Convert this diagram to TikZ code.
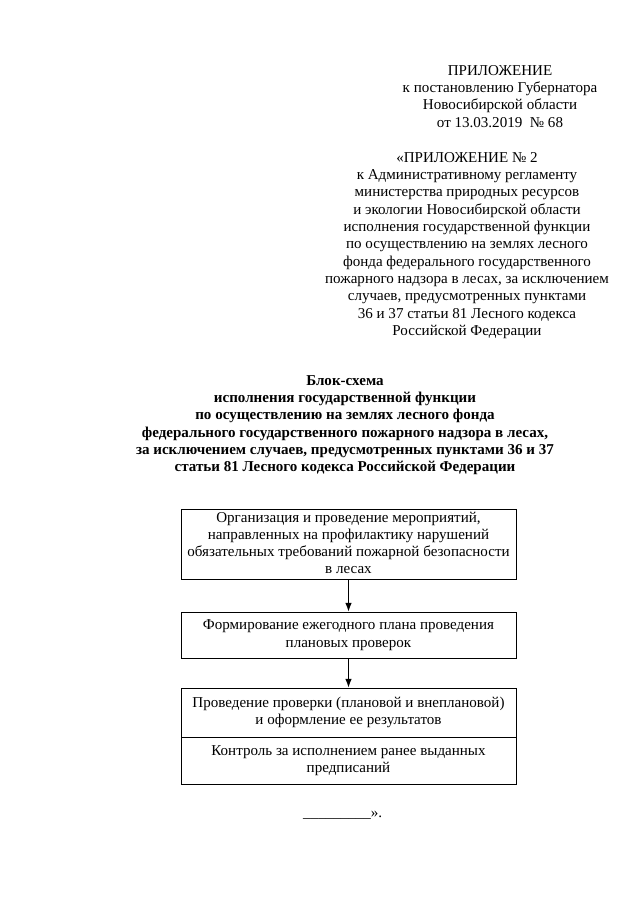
\documentclass[tikz,border=0pt]{standalone}
\usepackage{fontspec}
\setmainfont{Liberation Serif}
\usetikzlibrary{arrows.meta}
\tikzset{
  txt/.style={align=center, inner sep=0pt, font=\fontsize{14pt}{16.1pt}\selectfont},
  boxnode/.style={draw, line width=0.8pt, minimum width=311.55pt, inner sep=0pt, align=center, font=\fontsize{14pt}{16.1pt}\selectfont},
  flow/.style={line width=1pt, -{Latex[length=8pt,width=6pt]}}
}
\begin{document}
\begin{tikzpicture}[x=0.93pt,y=-0.93pt]
\fill[white] (0,0) rectangle (640,905);
\useasboundingbox (0,0) rectangle (640,905);
\node[txt, anchor=north] (hdr1) at (500,62.9) {\strut ПРИЛОЖЕНИЕ\\к постановлению Губернатора\\Новосибирской области\\от 13.03.2019\ \ №~68};
\node[txt, anchor=north] (hdr2) at (467,149.9) {\strut «ПРИЛОЖЕНИЕ №~2\\к Административному регламенту\\министерства природных ресурсов\\и экологии Новосибирской области\\исполнения государственной функции\\по осуществлению на землях лесного\\фонда федерального государственного\\пожарного надзора в лесах, за исключением\\случаев, предусмотренных пунктами\\36 и 37 статьи 81 Лесного кодекса\\Российской Федерации};
\node[txt, anchor=north, font=\fontsize{14pt}{16.1pt}\selectfont\bfseries] (title) at (345,372.9) {\strut Блок-схема\\исполнения государственной функции\\по осуществлению на землях лесного фонда\\федерального государственного пожарного надзора в лесах,\\за исключением случаев, предусмотренных пунктами 36 и 37\\статьи 81 Лесного кодекса Российской Федерации};
\node[boxnode, minimum height=64.17pt] (b1) at (348.5,544.5) {\strut Организация и проведение мероприятий,\\направленных на профилактику нарушений\\обязательных требований пожарной безопасности\\в лесах\strut};
\node[boxnode, minimum height=42.78pt] (b2) at (348.5,635) {\strut Формирование ежегодного плана проведения\\плановых проверок\strut};
\node[boxnode, minimum height=45.57pt] (b3) at (348.5,712.5) {\strut Проведение проверки (плановой и внеплановой)\\и оформление ее результатов\strut};
\node[boxnode, minimum height=43.71pt] (b4) at (348.5,760.5) {\strut Контроль за исполнением ранее выданных\\предписаний\strut};
\draw[flow] (b1) -- (b2);
\draw[flow] (b2) -- (b3);
\node[txt, anchor=base west] (end) at (303,817) {\_\_\_\_\_\_\_\_\_».};
\end{tikzpicture}
\end{document}
